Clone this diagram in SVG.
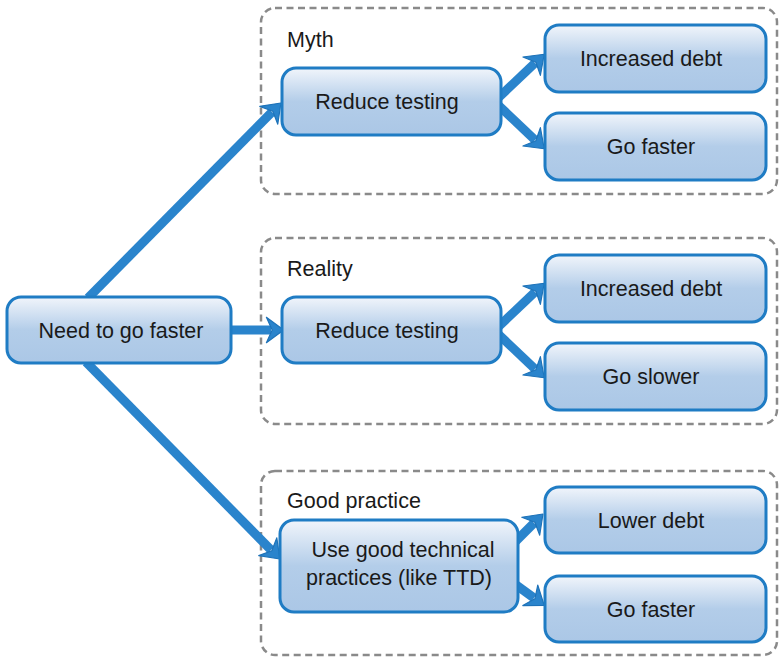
<svg xmlns="http://www.w3.org/2000/svg" width="780" height="657" viewBox="0 0 780 657">
  <defs>
    <linearGradient id="nodeFill" x1="0" y1="0" x2="0" y2="1">
      <stop offset="0" stop-color="#f1f5fb"/>
      <stop offset="0.5" stop-color="#b3cde9"/>
      <stop offset="1" stop-color="#abc7e6"/>
    </linearGradient>
    <marker id="head" markerUnits="userSpaceOnUse" markerWidth="30" markerHeight="30" viewBox="-2 -13 20 26" refX="3" refY="0" orient="auto">
      <path d="M-1,-11 L14,0 L-1,11 L4,0 Z" fill="#2a84cc" stroke="#1d72b8" stroke-width="1" stroke-linejoin="round"/>
    </marker>
    <style>
      .group { fill: none; stroke: #8a8a8a; stroke-width: 2.5; stroke-dasharray: 7 4.5; }
      .node rect { fill: url(#nodeFill); stroke: #1f7cc4; stroke-width: 3; }
      .node text, .label { font-family: "Liberation Sans", "Noto Sans", sans-serif; font-size: 21.5px; fill: #1a1a1a; }
      .node text { text-anchor: middle; }
      .conn { fill: none; stroke: #2a84cc; stroke-width: 9; stroke-linecap: butt; marker-end: url(#head); }
    </style>
  </defs>
  <rect width="780" height="657" fill="#ffffff"/>

  <g id="groups">
    <rect class="group" x="261" y="8" width="516" height="186" rx="14"/>
    <rect class="group" x="261" y="238" width="516" height="186" rx="14"/>
    <rect class="group" x="261" y="471" width="516" height="184" rx="14"/>
    <text class="label" x="287" y="47">Myth</text>
    <text class="label" x="287" y="276">Reality</text>
    <text class="label" x="287" y="508">Good practice</text>
  </g>

  <g id="connectors">
    <line class="conn" x1="88" y1="298" x2="272" y2="112"/>
    <line class="conn" x1="226" y1="330" x2="271" y2="330"/>
    <line class="conn" x1="86" y1="362" x2="271" y2="550"/>
    <line class="conn" x1="496" y1="100" x2="535" y2="63"/>
    <line class="conn" x1="496" y1="103" x2="535" y2="140"/>
    <line class="conn" x1="496" y1="329" x2="535" y2="292"/>
    <line class="conn" x1="496" y1="332" x2="535" y2="369"/>
    <line class="conn" x1="512" y1="545" x2="534" y2="523"/>
    <line class="conn" x1="512" y1="582" x2="534" y2="598"/>
  </g>

  <g id="need" class="node">
    <rect x="7" y="297" width="224" height="66" rx="14"/>
    <text x="121" y="338">Need to go faster</text>
  </g>

  <g id="myth-reduce" class="node">
    <rect x="282" y="68" width="219" height="67" rx="14"/>
    <text x="387" y="109">Reduce testing</text>
  </g>
  <g id="myth-debt" class="node">
    <rect x="545" y="25" width="221" height="67" rx="14"/>
    <text x="651" y="66">Increased debt</text>
  </g>
  <g id="myth-faster" class="node">
    <rect x="545" y="113" width="221" height="67" rx="14"/>
    <text x="651" y="154">Go faster</text>
  </g>

  <g id="reality-reduce" class="node">
    <rect x="282" y="297" width="219" height="66" rx="14"/>
    <text x="387" y="338">Reduce testing</text>
  </g>
  <g id="reality-debt" class="node">
    <rect x="545" y="255" width="221" height="67" rx="14"/>
    <text x="651" y="296">Increased debt</text>
  </g>
  <g id="reality-slower" class="node">
    <rect x="545" y="343" width="221" height="67" rx="14"/>
    <text x="651" y="384">Go slower</text>
  </g>

  <g id="good-practices" class="node">
    <rect x="280" y="520" width="238" height="92" rx="14"/>
    <text x="403" y="557">Use good technical</text>
    <text x="399" y="585">practices (like TTD)</text>
  </g>
  <g id="good-debt" class="node">
    <rect x="545" y="487" width="221" height="66" rx="14"/>
    <text x="651" y="528">Lower debt</text>
  </g>
  <g id="good-faster" class="node">
    <rect x="545" y="576" width="221" height="66" rx="14"/>
    <text x="651" y="617">Go faster</text>
  </g>
</svg>
